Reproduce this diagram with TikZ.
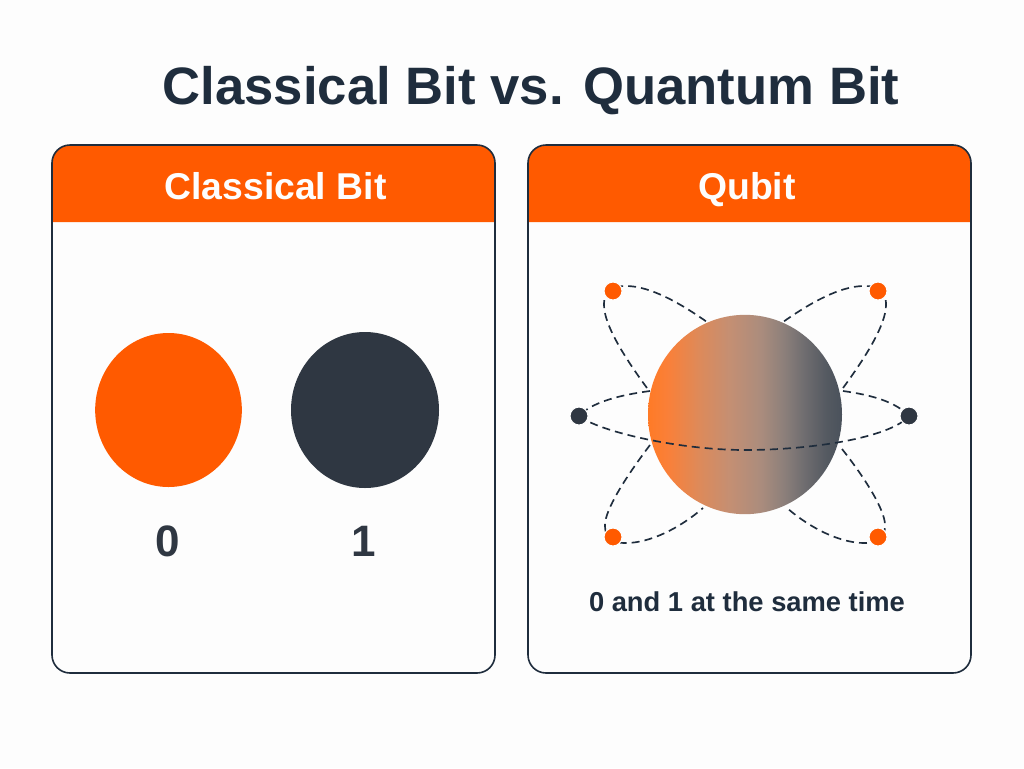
\documentclass[tikz,border=0pt]{standalone}
\usepackage{fontspec}
\setmainfont{Liberation Sans}
\usetikzlibrary{calc,shapes.geometric}
\definecolor{ink}{HTML}{1F2D3D}
\definecolor{flame}{HTML}{FF5A00}
\definecolor{slate}{HTML}{2F3742}
\definecolor{paper}{HTML}{FDFDFD}
\pgfdeclarelayer{front}
\pgfsetlayers{main,front}
\pgfdeclarehorizontalshading{qubitshade}{100bp}{
  rgb(0bp)=(1,0.48,0.15);
  rgb(25bp)=(1,0.48,0.15);
  rgb(30bp)=(0.98,0.50,0.22);
  rgb(38bp)=(0.87,0.54,0.35);
  rgb(46bp)=(0.77,0.56,0.45);
  rgb(54bp)=(0.67,0.55,0.49);
  rgb(60bp)=(0.55,0.50,0.48);
  rgb(65bp)=(0.44,0.43,0.44);
  rgb(71bp)=(0.33,0.35,0.38);
  rgb(75bp)=(0.29,0.32,0.36);
  rgb(100bp)=(0.29,0.32,0.36)}
\tikzset{
  px/.style={x=0.75pt,y=-0.75pt},
  panelbox/.style={draw=ink,line width=1.2pt,rounded corners=13.5pt,minimum width=332.25pt,minimum height=396pt,inner sep=0pt},
  headband/.style={fill=flame},
  headtext/.style={text=paper,font=\bfseries\fontsize{28}{32}\selectfont,anchor=base,inner sep=0pt},
  bitcircle/.style={ellipse,inner sep=0pt},
  bitlabel/.style={text=slate,font=\bfseries\fontsize{33}{38}\selectfont,anchor=base,inner sep=0pt},
  orbit/.style={draw=ink,line width=1.25pt,dash pattern=on 6pt off 3.8pt},
  dotmark/.style={circle,minimum size=13.5pt,inner sep=0pt,draw=paper,line width=0.8pt}
}
\begin{document}
\begin{tikzpicture}[px]
\useasboundingbox (0,0) rectangle (1024,768);
\fill[paper] (0,0) rectangle (1024,768);

% title
\node[text=ink,font=\bfseries\fontsize{39.5}{44}\selectfont,inner sep=0pt,anchor=base] (title) at (531,104) {Classical Bit vs. Quantum Bit};

% panel headers, rounded on top only
\fill[headband] (52,222) {[rounded corners=13.5pt] -- (52,145) -- (495,145)} -- (495,222) -- cycle;
\fill[headband] (528,222) {[rounded corners=13.5pt] -- (528,145) -- (971,145)} -- (971,222) -- cycle;

% panel outlines
\node[panelbox] (left) at (273.5,409) {};
\node[panelbox] (right) at (749.5,409) {};

\node[headtext] (lefthead) at (275.5,199) {Classical Bit};
\node[headtext] (righthead) at (747,199) {Qubit};

% classical states
\node[bitcircle,fill=flame,minimum width=110pt,minimum height=115.5pt] (zero) at (168.5,410) {};
\node[bitcircle,fill=slate,minimum width=111pt,minimum height=117pt] (one) at (365,410) {};
\node[bitlabel] (zerolabel) at (168,556) {0};
\node[bitlabel] (onelabel) at (364,556) {1};

% qubit sphere
\node[bitcircle,shading=qubitshade,minimum width=145.5pt,minimum height=149.5pt] (sphere) at (745,414.5) {};

% orbit end points on the sphere rim
\coordinate (ulA) at (647,388);
\coordinate (ulB) at (707,322);
\coordinate (urA) at (843,388);
\coordinate (urB) at (783,322);
\coordinate (llA) at (650,445);
\coordinate (llB) at (703,508);
\coordinate (lrA) at (842,449);
\coordinate (lrB) at (787,508);
\coordinate (hlA) at (650,391);
\coordinate (hrA) at (843,391);

% state markers sit above the orbit lines
\begin{pgfonlayer}{front}
\node[dotmark,fill=flame] (ul) at (613,291) {};
\node[dotmark,fill=flame] (ur) at (878,291) {};
\node[dotmark,fill=flame] (ll) at (613,537) {};
\node[dotmark,fill=flame] (lr) at (878,537) {};
\node[dotmark,fill=slate] (hl) at (579,416) {};
\node[dotmark,fill=slate] (hr) at (909,416) {};
\end{pgfonlayer}

% orbits
\path[orbit] (ulA) .. controls (625,358) and (604,325) .. (604,305)
  .. controls (604,289) and (612,286) .. (626,286) .. controls (650,286) and (680,303) .. (ulB);
\path[orbit] (urA) .. controls (865,358) and (886,325) .. (886,305)
  .. controls (886,289) and (878,286) .. (864,286) .. controls (840,286) and (810,303) .. (urB);
\path[orbit] (llA) .. controls (625,478) and (605,510) .. (605,525)
  .. controls (605,541) and (614,543) .. (626,543) .. controls (650,543) and (680,528) .. (llB);
\path[orbit] (lrA) .. controls (865,478) and (885,510) .. (885,525)
  .. controls (885,541) and (876,543) .. (864,543) .. controls (840,543) and (810,528) .. (lrB);
\path[orbit] (hlA) .. controls (620,395) and (592,402) .. (hl.center);
\path[orbit] (hrA) .. controls (872,395) and (896,402) .. (hr.center);
\path[orbit] (hl.center) .. controls (600,432) and (680,450) .. (745,450)
  .. controls (810,450) and (890,438) .. (hr.center);

\node[text=ink,font=\bfseries\fontsize{20.5}{24}\selectfont,inner sep=0pt,anchor=base] (caption) at (747,611) {0 and 1 at the same time};
\end{tikzpicture}
\end{document}
